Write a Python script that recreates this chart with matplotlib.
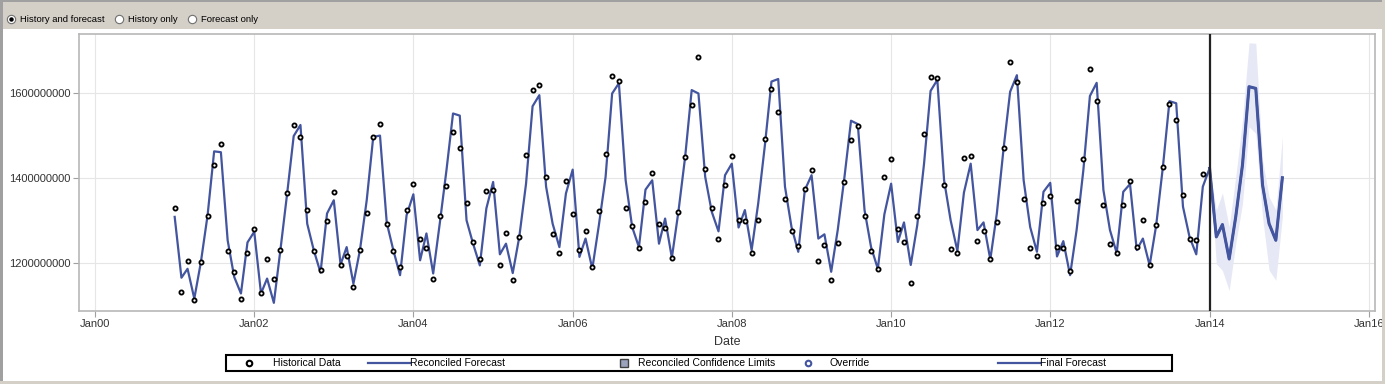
import numpy as np
import pandas as pd
import matplotlib
matplotlib.use('Agg')
import matplotlib.pyplot as plt
import matplotlib.dates as mdates
import matplotlib.ticker as mticker
from matplotlib.lines import Line2D
from matplotlib.patches import Rectangle

plt.rcParams['font.family'] = ['Liberation Sans', 'DejaVu Sans']

# historical data (millions), monthly Jan 2001 - Dec 2013
hist = [1330, 1132, 1205, 1114, 1202, 1312, 1431, 1481, 1229, 1180, 1117, 1223,
        1280, 1129, 1210, 1162, 1231, 1364, 1525, 1497, 1326, 1229, 1185, 1300,
        1368, 1197, 1218, 1144, 1231, 1317, 1496, 1527, 1293, 1229, 1191, 1326,
        1387, 1256, 1237, 1164, 1311, 1381, 1509, 1472, 1342, 1251, 1210, 1369,
        1373, 1196, 1271, 1160, 1261, 1454, 1607, 1619, 1402, 1268, 1224, 1393,
        1316, 1231, 1275, 1191, 1322, 1456, 1641, 1629, 1329, 1288, 1236, 1344,
        1413, 1293, 1284, 1213, 1321, 1450, 1572, 1685, 1422, 1330, 1257, 1385,
        1452, 1301, 1300, 1224, 1302, 1493, 1610, 1556, 1352, 1275, 1241, 1375,
        1420, 1205, 1242, 1160, 1248, 1391, 1489, 1523, 1311, 1229, 1187, 1402,
        1444, 1280, 1249, 1154, 1312, 1503, 1637, 1635, 1385, 1233, 1224, 1448,
        1452, 1253, 1275, 1209, 1296, 1471, 1673, 1625, 1352, 1237, 1218, 1342,
        1359, 1238, 1236, 1182, 1347, 1444, 1657, 1582, 1338, 1246, 1224, 1338,
        1394, 1238, 1301, 1195, 1289, 1427, 1574, 1536, 1361, 1258, 1254, 1409]

# reconciled (fitted) values over the history
fitted = [1309, 1166, 1187, 1117, 1202, 1313, 1463, 1461, 1254, 1168, 1129, 1249,
          1274, 1129, 1164, 1107, 1231, 1364, 1499, 1525, 1293, 1231, 1178, 1317,
          1348, 1197, 1238, 1152, 1231, 1348, 1497, 1500, 1295, 1231, 1172, 1313,
          1362, 1207, 1270, 1176, 1293, 1419, 1552, 1547, 1301, 1246, 1195, 1329,
          1391, 1221, 1246, 1177, 1262, 1387, 1569, 1595, 1380, 1293, 1238, 1364,
          1420, 1215, 1258, 1187, 1289, 1403, 1599, 1623, 1395, 1285, 1238, 1373,
          1395, 1246, 1305, 1213, 1321, 1450, 1607, 1599, 1403, 1321, 1275, 1407,
          1434, 1284, 1325, 1231, 1340, 1478, 1627, 1633, 1380, 1285, 1227, 1372,
          1407, 1258, 1268, 1180, 1278, 1403, 1535, 1527, 1325, 1238, 1187, 1315,
          1387, 1250, 1296, 1196, 1290, 1434, 1605, 1631, 1395, 1301, 1229, 1366,
          1434, 1278, 1296, 1209, 1317, 1470, 1603, 1642, 1395, 1285, 1227, 1368,
          1389, 1216, 1252, 1172, 1278, 1419, 1593, 1624, 1372, 1278, 1224, 1368,
          1386, 1231, 1258, 1195, 1289, 1427, 1581, 1576, 1333, 1262, 1221, 1380]

# final forecast Jan 2014 - Dec 2014 with confidence limits
forecast = [1423, 1262, 1291, 1210, 1309, 1431, 1615, 1611, 1384, 1293, 1254, 1401]
lower = [1423, 1199, 1183, 1136, 1246, 1340, 1521, 1505, 1309, 1184, 1160, 1309]
upper = [1423, 1325, 1365, 1285, 1403, 1536, 1718, 1717, 1442, 1356, 1325, 1497]

hist_dates = pd.date_range('2001-01-01', periods=len(hist), freq='MS')
fc_dates = pd.date_range('2014-01-01', periods=len(forecast), freq='MS')

hist = np.array(hist) * 1e6
fitted = np.array(fitted) * 1e6
forecast = np.array(forecast) * 1e6
lower = np.array(lower) * 1e6
upper = np.array(upper) * 1e6

W, H = 1385, 384
fig = plt.figure(figsize=(W / 100, H / 100), dpi=100)
fig.patch.set_facecolor('white')


def fx(px):
    return px / W


def fy(py):
    return 1 - py / H


blue = '#44559f'
chrome = '#d4d0c8'

# window chrome
fig.add_artist(Rectangle((0, fy(29)), 1, 29 / H, transform=fig.transFigure,
                         facecolor=chrome, edgecolor='none'))
fig.add_artist(Rectangle((0, fy(2)), 1, 2 / H, transform=fig.transFigure,
                         facecolor='#a0a0a0', edgecolor='none'))
fig.add_artist(Rectangle((0, 0), 3 / W, 1, transform=fig.transFigure,
                         facecolor='#a0a0a0', edgecolor='none'))
fig.add_artist(Rectangle((0, 0), 1, 3 / H, transform=fig.transFigure,
                         facecolor=chrome, edgecolor='none'))
fig.add_artist(Rectangle((1 - 3 / W, 0), 3 / W, 1, transform=fig.transFigure,
                         facecolor=chrome, edgecolor='none'))

# radio buttons
for px, label, on in [(11, 'History and forecast', True), (119, 'History only', False),
                      (192, 'Forecast only', False)]:
    fig.add_artist(Line2D([fx(px)], [fy(19)], marker='o', ms=6, mfc='white', mec='#707070',
                          mew=0.8, transform=fig.transFigure))
    if on:
        fig.add_artist(Line2D([fx(px)], [fy(19)], marker='o', ms=2.2, mfc='black', mec='black',
                              transform=fig.transFigure))
    fig.text(fx(px + 9), fy(19), label, fontsize=6.8, va='center', ha='left', color='black')

ax = fig.add_axes([fx(79), fy(311), fx(1375) - fx(79), fy(34) - fy(311)])

ax.fill_between(fc_dates, lower, upper, color='#e6e8f5', lw=0, zorder=1)
ax.plot(hist_dates.append(fc_dates), np.concatenate([fitted, forecast]), color=blue, lw=1.6, zorder=2)
ax.plot(fc_dates, forecast, color=blue, lw=2.2, zorder=3)
ax.plot(hist_dates, hist, 'o', ms=3.0, mfc='white', mec='black', mew=1.3, zorder=4)
ax.axvline(pd.Timestamp('2014-01-01'), color='#222222', lw=1.6, zorder=5)

ax.set_xlim(pd.Timestamp('1999-10-20'), pd.Timestamp('2016-01-30'))
ax.set_ylim(1.0878e9, 1.7388e9)
ax.xaxis.set_major_locator(mdates.YearLocator(2))
ax.xaxis.set_major_formatter(mdates.DateFormatter('%b%y'))
ax.yaxis.set_major_locator(mticker.FixedLocator([1.2e9, 1.4e9, 1.6e9]))
ax.yaxis.set_major_formatter(mticker.FuncFormatter(lambda v, p: f'{v:.0f}'))

ax.grid(True, color='#e6e6e6', lw=0.8)
ax.set_axisbelow(True)
for s in ax.spines.values():
    s.set_color('#b8b8b8')
    s.set_linewidth(1.2)
ax.tick_params(length=4, color='#a0a0a0', labelsize=8, labelcolor='#333333', pad=2)
ax.set_xlabel('Date', fontsize=9, color='#333333', labelpad=5)

# legend drawn by hand to follow the reference spacing
ly = fy(363)
fig.add_artist(Rectangle((fx(226), fy(371)), (1172 - 226) / W, 16 / H, transform=fig.transFigure,
                         facecolor='white', edgecolor='black', lw=1.5))
fig.add_artist(Line2D([fx(249)], [ly], marker='o', ms=4.0, mfc='white', mec='black', mew=1.5,
                      transform=fig.transFigure))
fig.add_artist(Line2D([fx(368), fx(410)], [ly, ly], color=blue, lw=1.6, transform=fig.transFigure))
fig.add_artist(Line2D([fx(624)], [ly], marker='s', ms=5.5, mfc='#9aa2bc', mec='#404040', mew=1.0,
                      transform=fig.transFigure))
fig.add_artist(Line2D([fx(808)], [ly], marker='o', ms=4.0, mfc='white', mec=blue, mew=1.5,
                      transform=fig.transFigure))
fig.add_artist(Line2D([fx(998), fx(1040)], [ly, ly], color=blue, lw=1.6, transform=fig.transFigure))
for px, label in [(273, 'Historical Data'), (410, 'Reconciled Forecast'),
                  (638, 'Reconciled Confidence Limits'), (830, 'Override'), (1040, 'Final Forecast')]:
    fig.text(fx(px), ly, label, fontsize=7.5, va='center', ha='left', color='black')

fig.savefig('out.png', dpi=100)
